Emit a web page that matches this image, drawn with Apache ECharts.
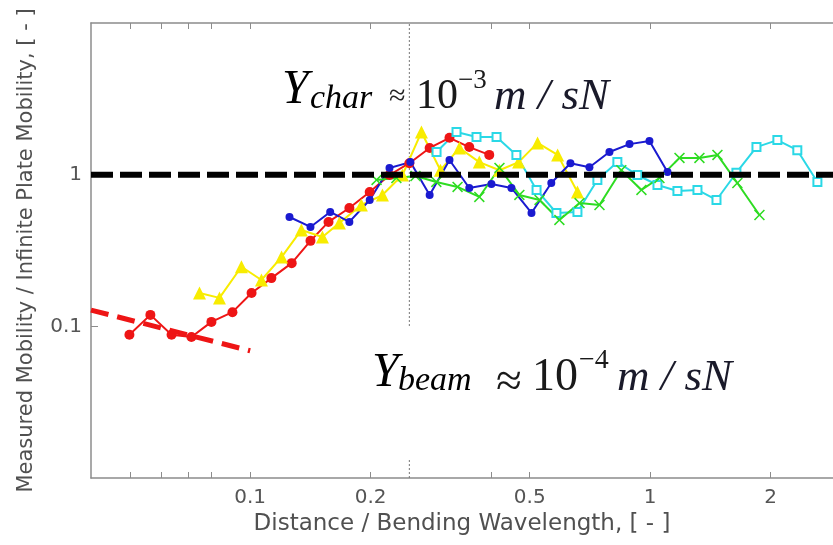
<!DOCTYPE html>
<html><head><meta charset="utf-8">
<script src="https://cdn.jsdelivr.net/npm/echarts@6/dist/echarts.min.js"></script>
<style>html,body{margin:0;padding:0;background:#fff}#c{width:833px;height:545px}</style>
</head><body><div id="c"></div>
<script>
// ---- data ----
const redX = [0.0499,0.0563,0.0636,0.0713,0.080,0.0903,0.1008,0.113,0.127,0.1415,0.157,0.177,0.199,0.223,0.250,0.281,0.315,0.353,0.396];
const redY = [0.088,0.119,0.088,0.085,0.107,0.124,0.166,0.208,0.261,0.366,0.488,0.603,0.769,0.995,1.19,1.50,1.75,1.52,1.35];

const yellowX = [0.0747,0.0838,0.0951,0.1067,0.1198,0.1343,0.1516,0.1671,0.1897,0.2141,0.2403,0.268,0.299,0.3336,0.374,0.420,0.469,0.523,0.587,0.658];
const yellowY = [0.166,0.154,0.247,0.202,0.286,0.432,0.388,0.480,0.631,0.734,0.995,1.91,1.07,1.50,1.21,1.07,1.21,1.62,1.35,0.769];

const blueX = [0.1254,0.1415,0.1585,0.177,0.199,0.223,0.2515,0.281,0.315,0.353,0.401,0.450,0.505,0.566,0.632,0.705,0.791,0.888,0.996,1.105];
const blueY = [0.526,0.452,0.568,0.488,0.681,1.107,1.21,0.734,1.25,0.817,0.868,0.817,0.559,0.881,1.19,1.12,1.41,1.59,1.67,1.04];

const cyanX = [0.2924,0.328,0.368,0.413,0.463,0.520,0.583,0.658,0.738,0.828,0.929,1.043,1.170,1.313,1.465,1.643,1.844,2.080,2.333,2.619];
const cyanY = [1.41,1.91,1.77,1.77,1.35,0.793,0.559,0.568,0.923,1.21,0.995,0.855,0.781,0.793,0.681,1.03,1.52,1.69,1.45,0.895];

const greenX = [0.207,0.232,0.259,0.292,0.330,0.374,0.420,0.471,0.529,0.593,0.666,0.747,0.847,0.951,1.055,1.184,1.328,1.473,1.652,1.876];
const greenY = [0.923,0.951,0.980,0.895,0.830,0.713,1.107,0.735,0.681,0.503,0.650,0.631,1.07,0.793,0.951,1.29,1.29,1.35,0.881,0.542];

const plateLineX = [0.04, 2.865];
const plateLineY = [1, 1];
const beamLineX = [0.04, 0.1];
const beamLineY = [0.128, 0.069];
const markerLineX = [0.25, 0.25];
const markerLineY = [0.01, 10];

const xTickLabels = [0.1, 0.2, 0.5, 1, 2];
const xTicks = [0.05, 0.06, 0.07, 0.08, 0.1, 0.2, 0.4, 0.5, 1, 2];
const yTickLabels = [0.1, 1];
const yTicks = [0.1, 1];

const xName = 'Distance / Bending Wavelength, [ - ]';
const yName = 'Measured Mobility / Infinite Plate Mobility, [ - ]';

// ---- build ----
const pairs = (xs, ys) => xs.map((x, i) => [x, ys[i]]);
const AX = '#8c8c8c';
const fmt = v => String(+(+v).toPrecision(3));
const serif = '"Liberation Serif", "Times New Roman", serif';

const chart = echarts.init(document.getElementById('c'), null, {renderer: 'canvas'});

function xAxisDef(pos, withLabels) {
  return {
    type: 'log', logBase: 10, min: 0.04, max: 2.865, position: pos,
    name: withLabels ? xName : '', nameLocation: 'middle', nameGap: 34,
    nameTextStyle: {fontFamily: 'DejaVu Sans', fontSize: 23, color: '#505050'},
    axisLine: {show: true, lineStyle: {color: AX, width: 1.5}},
    axisTick: {show: true, inside: true, length: 6, customValues: xTicks, lineStyle: {color: AX, width: 1}},
    axisLabel: {show: withLabels, customValues: xTickLabels, formatter: fmt,
      fontFamily: 'DejaVu Sans', fontSize: 20, color: '#555', margin: 10},
    splitLine: {show: false}, minorTick: {show: false}, minorSplitLine: {show: false}
  };
}
function yAxisDef(pos, withLabels) {
  return {
    type: 'log', logBase: 10, min: 0.01, max: 10, position: pos,
    name: withLabels ? yName : '', nameLocation: 'middle', nameGap: 54, nameRotate: 90,
    nameTextStyle: {fontFamily: 'DejaVu Sans', fontSize: 21, color: '#505050'},
    axisLine: {show: withLabels, lineStyle: {color: AX, width: 1.5}},
    axisTick: {show: withLabels, inside: true, length: 7, customValues: yTicks, lineStyle: {color: AX, width: 1}},
    axisLabel: {show: withLabels, customValues: yTickLabels, formatter: fmt,
      fontFamily: 'DejaVu Sans', fontSize: 20, color: '#555', margin: 9},
    splitLine: {show: false}, minorTick: {show: false}, minorSplitLine: {show: false}
  };
}

const xMark = 'path://M0,1L1,0L5,4L9,0L10,1L6,5L10,9L9,10L5,6L1,10L0,9L4,5Z';

function dataSeries(name, xs, ys, color, symbol, size, extra) {
  return Object.assign({
    name, type: 'line', data: pairs(xs, ys), symbol, symbolSize: size,
    lineStyle: {color, width: 2}, itemStyle: {color},
    showSymbol: true, animation: false, clip: true
  }, extra || {});
}

const option = {
  animation: false,
  backgroundColor: '#fff',
  grid: {left: 91, top: 23, right: 0, bottom: 67, containLabel: false},
  xAxis: [xAxisDef('bottom', true), xAxisDef('top', false)],
  yAxis: [yAxisDef('left', true), yAxisDef('right', false)],
  series: [
    {name: 'marker', type: 'line', data: pairs(markerLineX, markerLineY), symbol: 'none',
     lineStyle: {color: '#777', width: 1, type: [2, 2]}, z: 1},
    dataSeries('red', redX, redY, '#ee1515', 'circle', 10),
    dataSeries('yellow', yellowX, yellowY, '#f8ec00', 'triangle', 13),
    dataSeries('blue', blueX, blueY, '#1a1ad0', 'circle', 8),
    dataSeries('cyan', cyanX, cyanY, '#2ad8e6', 'emptyRect', 8,
      {itemStyle: {color: '#2ad8e6', borderColor: '#2ad8e6', borderWidth: 2}}),
    dataSeries('green', greenX, greenY, '#2edc22', xMark, 11),
    {name: 'beam', type: 'line', data: pairs(beamLineX, beamLineY), symbol: 'none',
     lineStyle: {color: '#ee1515', width: 5, type: [18, 9]}, z: 4},
    {name: 'plate', type: 'line', data: pairs(plateLineX, plateLineY), symbol: 'none',
     lineStyle: {color: '#000', width: 6, type: [22, 7]}, z: 5}
  ],
  graphic: [
    {type: 'rect', shape: {x: 362, y: 326, width: 385, height: 133}, style: {fill: '#fff'}, z: 50},
    // upper annotation
    {type: 'text', x: 282, y: 90, z: 60, style: {text: 'Y', font: 'italic 48px ' + serif, fill: '#000', verticalAlign: 'middle', textVerticalAlign: 'middle'}},
    {type: 'text', x: 310, y: 99, z: 60, style: {text: 'char', font: 'italic 34px ' + serif, fill: '#000', verticalAlign: 'middle', textVerticalAlign: 'middle'}},
    {type: 'text', x: 389, y: 97, z: 60, style: {text: '\u2248', font: '30px ' + serif, fill: '#222', verticalAlign: 'middle', textVerticalAlign: 'middle'}},
    {type: 'text', x: 416, y: 97, z: 60, style: {text: '10', font: '42px ' + serif, fill: '#1a1a1a', verticalAlign: 'middle', textVerticalAlign: 'middle'}},
    {type: 'text', x: 458, y: 81, z: 60, style: {text: '\u22123', font: '27px ' + serif, fill: '#1a1a1a', verticalAlign: 'middle', textVerticalAlign: 'middle'}},
    {type: 'text', x: 494, y: 97, z: 60, style: {text: 'm / sN', font: 'italic 45px ' + serif, fill: '#1a1a2a', verticalAlign: 'middle', textVerticalAlign: 'middle'}},
    // lower annotation
    {type: 'text', x: 372, y: 373, z: 60, style: {text: 'Y', font: 'italic 48px ' + serif, fill: '#000', verticalAlign: 'middle', textVerticalAlign: 'middle'}},
    {type: 'text', x: 398, y: 381, z: 60, style: {text: 'beam', font: 'italic 34px ' + serif, fill: '#000', verticalAlign: 'middle', textVerticalAlign: 'middle'}},
    {type: 'text', x: 496, y: 384, z: 60, style: {text: '\u2248', font: '47px ' + serif, fill: '#1a1a1a', verticalAlign: 'middle', textVerticalAlign: 'middle'}},
    {type: 'text', x: 532, y: 378, z: 60, style: {text: '10', font: '46px ' + serif, fill: '#1a1a1a', verticalAlign: 'middle', textVerticalAlign: 'middle'}},
    {type: 'text', x: 579, y: 361, z: 60, style: {text: '\u22124', font: '28px ' + serif, fill: '#1a1a1a', verticalAlign: 'middle', textVerticalAlign: 'middle'}},
    {type: 'text', x: 617, y: 378, z: 60, style: {text: 'm / sN', font: 'italic 45px ' + serif, fill: '#1a1a2a', verticalAlign: 'middle', textVerticalAlign: 'middle'}}
  ]
};
chart.setOption(option);
</script>
</body></html>
